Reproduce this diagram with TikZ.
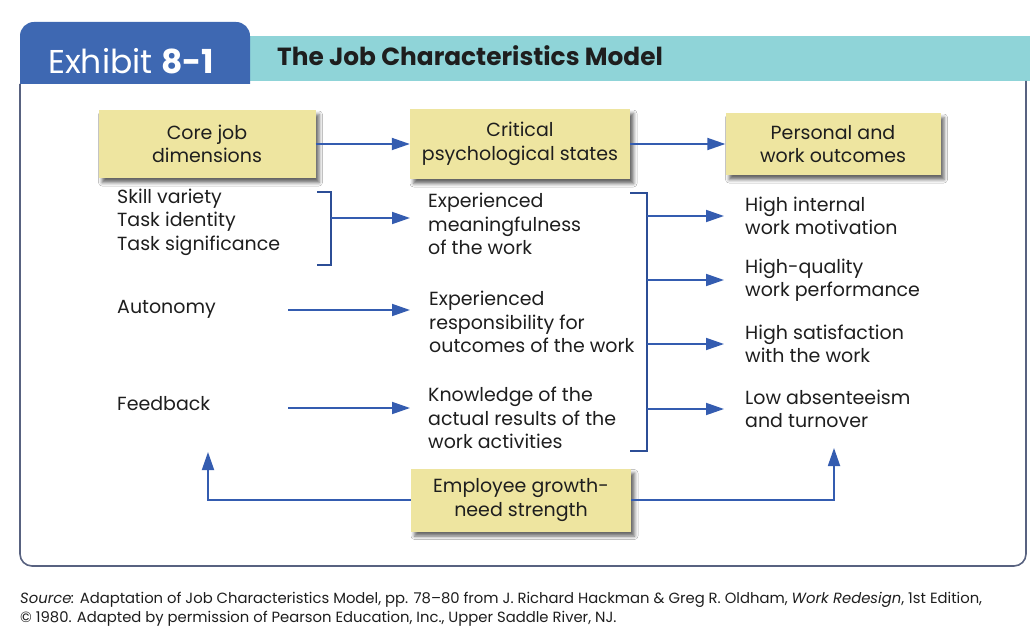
\documentclass[tikz,border=0pt]{standalone}
\usepackage{fontspec}
\setmainfont{Poppins}
\usetikzlibrary{arrows.meta,shadows.blur}

\definecolor{tabblue}{RGB}{62,104,178}
\definecolor{bandcyan}{RGB}{143,212,216}
\definecolor{notey}{RGB}{238,229,160}
\definecolor{linkblue}{RGB}{52,92,176}
\definecolor{framec}{RGB}{88,98,128}
\definecolor{inkc}{RGB}{30,30,30}

\newcommand\jcmbody{\fontsize{19}{23.5}\selectfont}

\tikzset{
  note/.style={fill=notey, align=center, inner sep=0pt, font=\jcmbody, text=inkc,
    blur shadow={shadow xshift=3.5pt, shadow yshift=-4.5pt, shadow opacity=60, shadow blur radius=3.5pt}},
  txt/.style={inner sep=0pt, align=left, anchor=west, font=\jcmbody, text=inkc},
  arr/.style={draw=linkblue, line width=1.8pt, -{Triangle[length=18pt,width=12pt]}},
  brk/.style={draw=linkblue!85!black, line width=1.5pt},
  framestyle/.style={draw=framec, line width=1.6pt, rounded corners=12pt},
  srcline/.style={anchor=base west, inner sep=0pt, text=inkc, font=\fontsize{14.8}{18}\selectfont},
}

\begin{document}
\begin{tikzpicture}[x=1pt,y=-1pt]
\useasboundingbox (0,0) rectangle (1030,631);
\fill[white] (0,0) rectangle (1030,631);

% header: tab and band
\fill[bandcyan] (250,36) rectangle (1030,81);
\fill[tabblue] (20,84) [rounded corners=14pt] -- (20,22) -- (250,22) [sharp corners] -- (250,84) -- cycle;
\node[anchor=base west, inner sep=0pt, text=white, font=\fontsize{33}{38}\selectfont] (exh) at (48,74) {Exhibit \textbf{8-1}};
\node[anchor=base west, inner sep=0pt, text=inkc, font=\fontsize{24.8}{29}\selectfont\bfseries] (title) at (277,66) {The Job Characteristics Model};

% frame
\draw[framestyle] (20,84) -- (20,566) -- (1026,566) -- (1026,81);

% heading boxes
\node[note, minimum width=217pt, minimum height=68pt] (core) at (207,144) {Core job\\dimensions};
\node[note, minimum width=220pt, minimum height=70pt] (crit) at (520,144) {Critical\\psychological states};
\node[note, minimum width=215pt, minimum height=62pt] (pers) at (833,144) {Personal and\\work outcomes};
\node[note, minimum width=220pt, minimum height=63pt] (grow) at (521,500) {Employee growth-\\need strength};

\draw[arr] (core.east) -- (crit.west);
\draw[arr] (crit.east) -- (pers.west);

% core job dimensions
\node[txt] (skill) at (117,222) {Skill variety\\Task identity\\Task significance};
\node[txt] (auton) at (117,309) {Autonomy};
\node[txt] (feed) at (117,404) {Feedback};

% critical psychological states
\node[txt] (mean) at (428,224) {Experienced\\meaningfulness\\of the work};
\node[txt] (resp) at (429,322) {Experienced\\responsibility for\\outcomes of the work};
\node[txt] (know) at (428,418) {Knowledge of the\\actual results of the\\work activities};

% outcomes
\node[txt] (motiv) at (745,216) {High internal\\work motivation};
\node[txt] (qual) at (745,280) {High-quality\\work performance};
\node[txt] (satis) at (745,344) {High satisfaction\\with the work};
\node[txt] (absent) at (745,409) {Low absenteeism\\and turnover};

% left bracket and its arrow
\coordinate (lbT) at (317,192);
\coordinate (lbB) at (317,265);
\coordinate (lbM) at (331,218);
\coordinate (lbE) at (410,218);
\draw[brk] (lbT) -- (331,192) -- (331,265) -- (lbB);
\draw[arr] (lbM) -- (lbE);

% single dimension arrows
\coordinate (auS) at (288,310);
\coordinate (auE) at (410,310);
\draw[arr] (auS) -- (auE);
\coordinate (fbS) at (288,408);
\coordinate (fbE) at (410,408);
\draw[arr] (fbS) -- (fbE);

% right bracket and outcome arrows
\coordinate (rbT) at (630,193);
\coordinate (rbB) at (630,451);
\coordinate (rv) at (647,0);
\draw[brk] (rbT) -- (647,193) -- (647,451) -- (rbB);
\foreach \o in {motiv,qual,satis,absent}
  \draw[arr, shorten >=21pt] (rv |- \o.west) -- (\o.west);

% moderator loops
\coordinate (gL) at (208,452);
\coordinate (gR) at (834,448);
\draw[arr] (grow.west) -| (gL);
\draw[arr] (grow.east) -| (gR);

% source line
\node[srcline] (src1) at (20,603)
  {\textit{Source:} Adaptation of Job Characteristics Model, pp. 78–80 from J. Richard Hackman \& Greg R. Oldham, \textit{Work Redesign}, 1st Edition,};
\node[srcline] (src2) at (20,622)
  {© 1980. Adapted by permission of Pearson Education, Inc., Upper Saddle River, NJ.};
\end{tikzpicture}
\end{document}
